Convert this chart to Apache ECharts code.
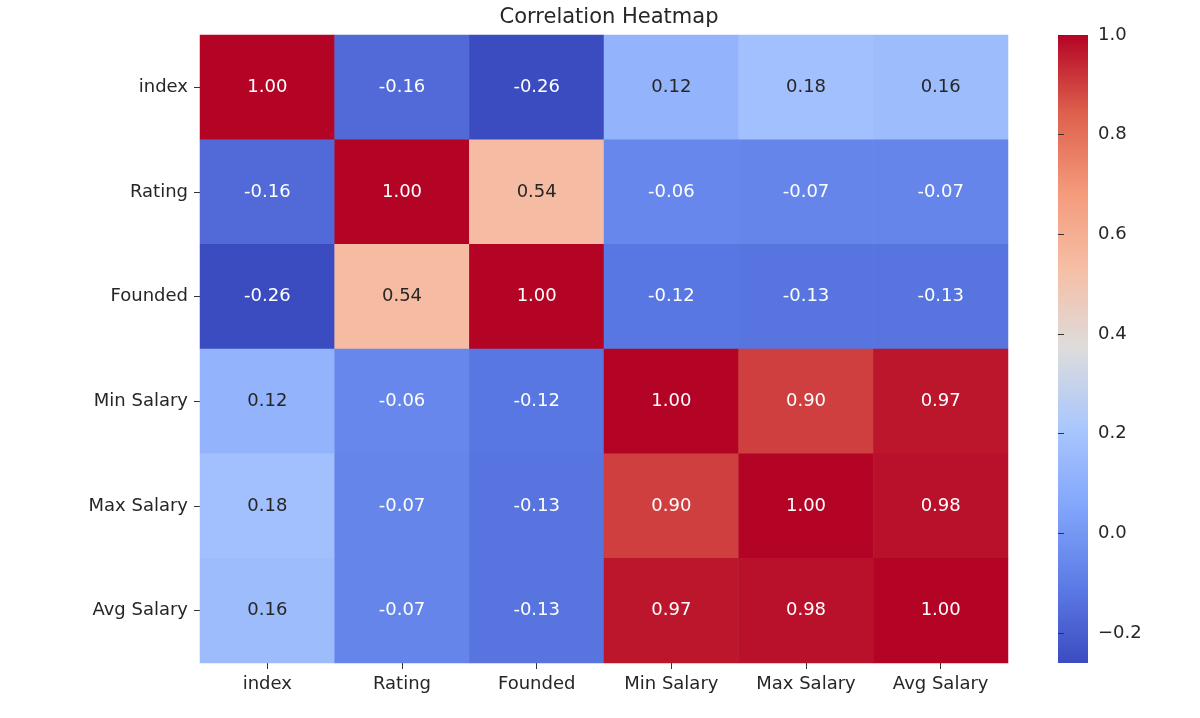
<!DOCTYPE html>
<html><head><meta charset="utf-8">
<script src="https://cdn.jsdelivr.net/npm/echarts@6/dist/echarts.min.js"></script>
<style>body{margin:0;background:#fff}#c{width:1200px;height:718px}</style>
</head><body><div id="c"></div>
<script>
const labels = ['index', 'Rating', 'Founded', 'Min Salary', 'Max Salary', 'Avg Salary'];
const matrix = [
  [1.00, -0.16, -0.26, 0.12, 0.18, 0.16],
  [-0.16, 1.00, 0.54, -0.06, -0.07, -0.07],
  [-0.26, 0.54, 1.00, -0.12, -0.13, -0.13],
  [0.12, -0.06, -0.12, 1.00, 0.90, 0.97],
  [0.18, -0.07, -0.13, 0.90, 1.00, 0.98],
  [0.16, -0.07, -0.13, 0.97, 0.98, 1.00]
];
const cbTicks = [-0.2, 0.0, 0.2, 0.4, 0.6, 0.8, 1.0];
const coolwarm = ['#3b4cc0', '#5d7ce6', '#82a6fb', '#aac7fd', '#dddcdc',
  '#f6bfa6', '#f49a7b', '#de614d', '#b40426'];

const data = [];
matrix.forEach((row, i) => row.forEach((v, j) => {
  data.push({
    value: [j, i, v],
    label: { color: (v < 0 || v > 0.7) ? '#ffffff' : '#262626' }
  });
}));

const chart = echarts.init(document.getElementById('c'));
const font = 'DejaVu Sans';
const tick = { show: true, alignWithLabel: true, length: 6, lineStyle: { color: '#333' } };
chart.setOption({
  textStyle: { fontFamily: font },
  title: { text: 'Correlation Heatmap', left: 604, top: 2, textAlign: 'center',
    textStyle: { fontSize: 21, fontWeight: 'normal', color: '#262626', fontFamily: font } },
  grid: [
    { left: 200, right: 192, top: 35, bottom: 55 },
    { left: 1058, right: 112, top: 35, bottom: 55 }
  ],
  xAxis: [
    { type: 'category', data: labels, gridIndex: 0, axisLine: { show: false }, axisTick: tick,
      axisLabel: { fontSize: 18, color: '#262626', margin: 12, interval: 0 } },
    { type: 'value', gridIndex: 1, show: false }
  ],
  yAxis: [
    { type: 'category', data: labels, inverse: true, gridIndex: 0, axisLine: { show: false },
      axisTick: tick, axisLabel: { fontSize: 18, color: '#262626', margin: 12, interval: 0 } },
    { type: 'value', gridIndex: 1, position: 'right', min: -0.26, max: 1.0,
      axisLine: { show: true, lineStyle: { color: 'rgba(0,0,0,0)' } },
      splitLine: { show: false },
      axisTick: { show: true, length: 6, customValues: cbTicks, lineStyle: { color: '#333' } },
      axisLabel: { fontSize: 18, color: '#262626', margin: 10, customValues: cbTicks,
        formatter: v => (v < 0 ? '\u22120.2' : v.toFixed(1)) } }
  ],
  visualMap: {
    show: false, min: -0.26, max: 1.0, seriesIndex: 0, inRange: { color: coolwarm }
  },
  graphic: [{
    type: 'rect', left: 1058, top: 35, silent: true, z: -1,
    shape: { width: 30, height: 628 },
    style: { fill: new echarts.graphic.LinearGradient(0, 1, 0, 0,
      coolwarm.map((c, i) => ({ offset: i / (coolwarm.length - 1), color: c }))) }
  }],
  series: [{
    type: 'heatmap', xAxisIndex: 0, yAxisIndex: 0, data: data,
    label: { show: true, fontSize: 18, formatter: p => p.value[2].toFixed(2) },
    emphasis: { disabled: true }
  }]
});
</script></body></html>
